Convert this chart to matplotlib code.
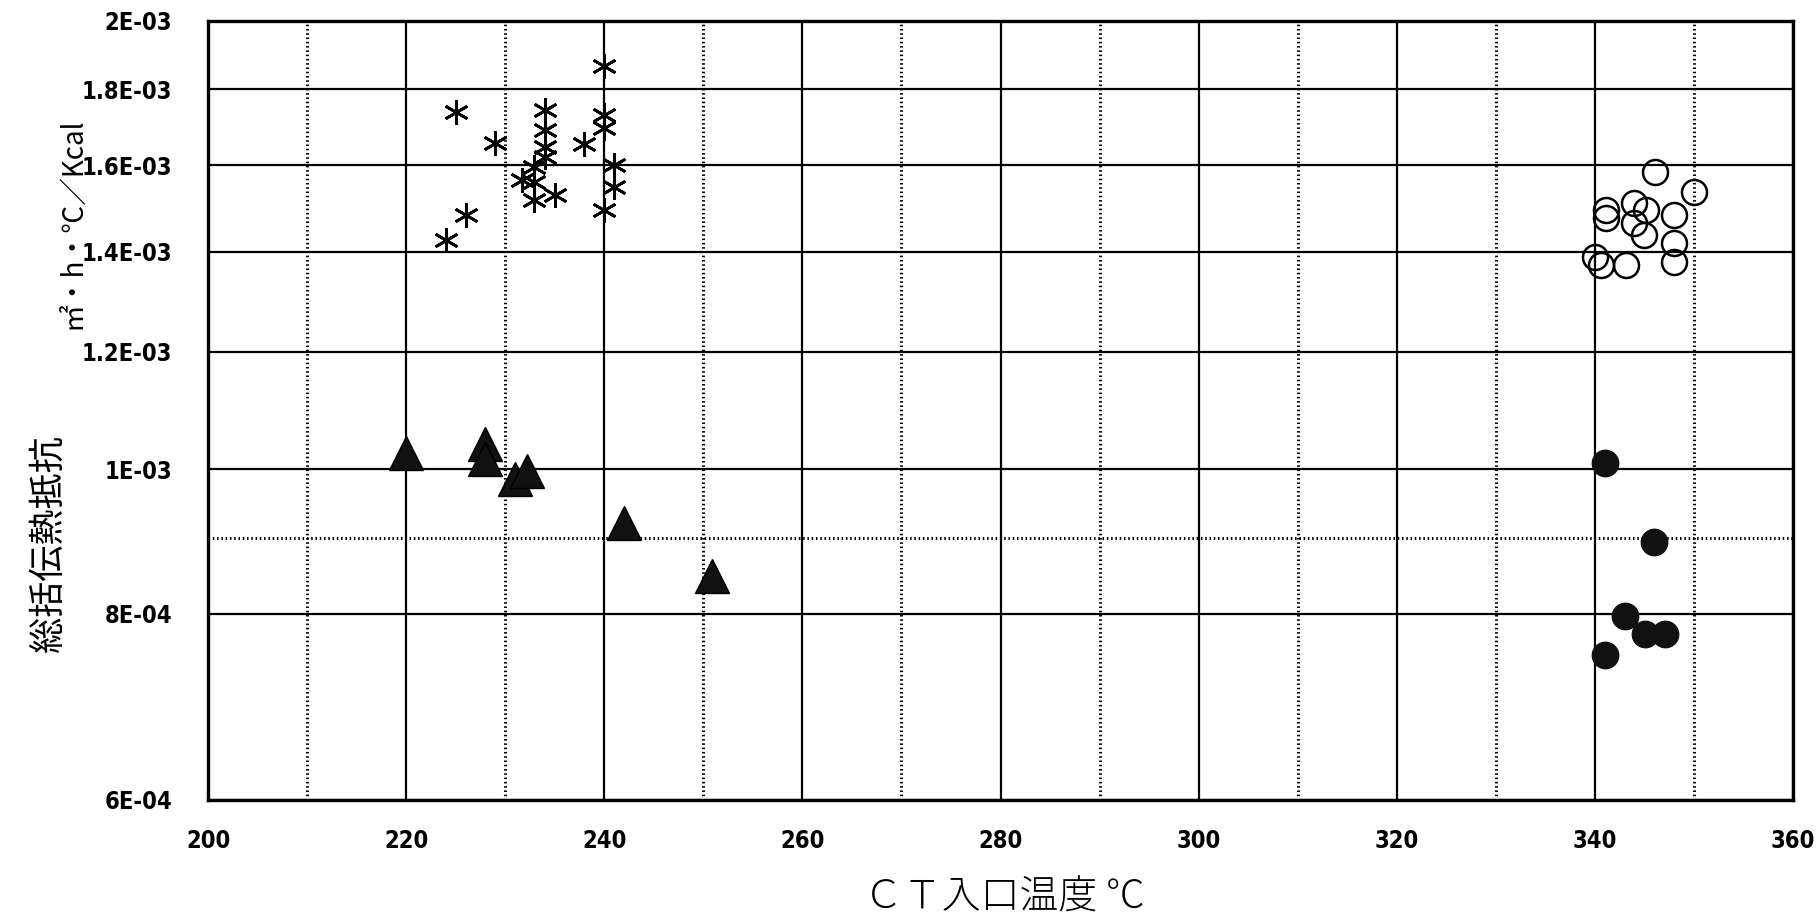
import matplotlib
matplotlib.use('Agg')
import matplotlib.pyplot as plt
from matplotlib.ticker import FixedLocator, NullFormatter

plt.rcParams['font.family'] = ['Noto Sans CJK JP', 'DejaVu Sans']

# 星印 (＊)
star_t = [240.0, 225.0, 229.0, 224.0, 226.0, 234.0, 234.0, 234.0, 234.0,
          232.9, 232.9, 232.9, 231.7, 235.0, 238.0, 240.0, 240.0, 240.0, 241.0, 241.0]
star_r = [1.866e-3, 1.738e-3, 1.657e-3, 1.426e-3, 1.482e-3, 1.743e-3, 1.690e-3, 1.646e-3, 1.621e-3,
          1.596e-3, 1.559e-3, 1.517e-3, 1.565e-3, 1.528e-3, 1.655e-3, 1.730e-3, 1.695e-3, 1.493e-3,
          1.601e-3, 1.548e-3]

# 三角 (▲)
tri_t = [220.0, 228.0, 228.0, 231.0, 232.2, 242.0, 250.9]
tri_r = [1.026e-3, 1.040e-3, 1.016e-3, 0.985e-3, 0.997e-3, 0.921e-3, 0.848e-3]

# 白丸 (○)
ocirc_t = [346.1, 350.0, 341.1, 341.1, 343.9, 345.2, 343.9, 345.0, 348.0, 348.0, 348.0,
           340.0, 340.6, 343.1]
ocirc_r = [1.584e-3, 1.535e-3, 1.493e-3, 1.475e-3, 1.510e-3, 1.493e-3, 1.464e-3, 1.437e-3,
           1.482e-3, 1.419e-3, 1.378e-3, 1.389e-3, 1.372e-3, 1.372e-3]

# 黒丸 (●)
fcirc_t = [341.0, 346.0, 343.05, 345.05, 347.1, 341.0]
fcirc_r = [1.010e-3, 0.894e-3, 0.797e-3, 0.775e-3, 0.775e-3, 0.751e-3]

ytick_vals = [6e-4, 8e-4, 1e-3, 1.2e-3, 1.4e-3, 1.6e-3, 1.8e-3, 2e-3]
ytick_labels = ['6E-04', '8E-04', '1E-03', '1.2E-03', '1.4E-03', '1.6E-03', '1.8E-03', '2E-03']
xtick_vals = [200, 220, 240, 260, 280, 300, 320, 340, 360]

fig = plt.figure(figsize=(18.2, 9.22), dpi=100)
ax = fig.add_axes([208/1820, 1 - 800/922, (1793 - 208)/1820, (800 - 21)/922])

ax.set_yscale('log')
ax.set_xlim(200, 360)
ax.set_ylim(6e-4, 2e-3)

ax.yaxis.set_major_locator(FixedLocator(ytick_vals))
ax.yaxis.set_minor_locator(FixedLocator([9e-4]))
ax.yaxis.set_minor_formatter(NullFormatter())
ax.set_yticks(ytick_vals)
ax.set_yticklabels(ytick_labels)
ax.set_xticks(xtick_vals)
ax.xaxis.set_minor_locator(FixedLocator(list(range(210, 360, 20))))

ax.grid(which='major', color='black', linestyle='-', linewidth=1.6)
ax.grid(which='minor', color='black', linestyle=(0, (0.5, 0.9)), linewidth=2.2)
ax.tick_params(which='both', length=0)
ax.tick_params(axis='y', pad=26)
ax.tick_params(axis='x', pad=21)
for lab in ax.get_xticklabels() + ax.get_yticklabels():
    lab.set_family(['Liberation Sans Narrow', 'DejaVu Sans'])
    lab.set_fontstretch('condensed')
    lab.set_fontweight('bold')
    lab.set_fontsize(17)
for sp in ax.spines.values():
    sp.set_linewidth(2.4)
ax.set_axisbelow(True)

ax.plot(star_t, star_r, linestyle='none', marker=(6, 2, 0), markersize=18,
        markeredgewidth=2.0, color='black', zorder=3, clip_on=False)
ax.plot(tri_t, tri_r, linestyle='none', marker='^', markersize=24,
        color='#111111', markeredgecolor='black', zorder=3)
ax.plot(ocirc_t, ocirc_r, linestyle='none', marker='o', markersize=18,
        markerfacecolor='none', markeredgecolor='black', markeredgewidth=1.8, zorder=3)
ax.plot(fcirc_t, fcirc_r, linestyle='none', marker='o', markersize=19,
        color='#111111', zorder=3)

fig.text(1004/1820, 1 - 898/922, 'ＣＴ入口温度 ℃', ha='center', va='center',
         fontsize=28, fontweight='light')
fig.text(49/1820, 1 - 544/922, '総括伝熱抵抗', rotation=90, ha='center', va='center',
         fontsize=26)
fig.text(72/1820, 1 - 223/922, '㎡・h・℃／Kcal', rotation=90, ha='center', va='center',
         fontsize=20)

fig.savefig('out.png', dpi=100)
